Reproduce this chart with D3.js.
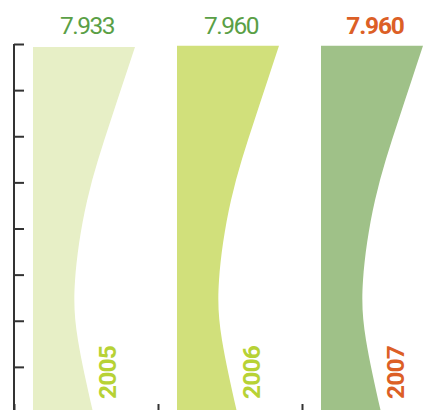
<!DOCTYPE html>
<html><head><meta charset="utf-8">
<script src="https://cdn.jsdelivr.net/npm/d3@7"></script>
<style>body{margin:0;background:#fff}svg{display:block}</style>
</head><body>
<svg id="c" width="445" height="410"></svg>
<script>
const years = ["2005", "2006", "2007"];
const values = [7.933, 7.960, 7.960];
const valueLabels = ["7.933", "7.960", "7.960"];
const yTicks = [0, 1, 2, 3, 4, 5, 6, 7, 8];

const barColors = ["#e7efc6", "#d1e07b", "#9fc188"];
const valueColors = ["#5a9f46", "#5a9f46", "#dc5f26"];
const valueWeights = [400, 400, 700];
const yearColors = ["#b7d235", "#b7d235", "#dc5f26"];

// right-edge profile of each bar: [fraction of height from top, fraction of top width]
const profile = [[0,1],[0.202,0.76],[0.42,0.53],[0.638,0.412],[0.801,0.441],[1,0.59]];

const svg = d3.select("#c");
const mLeft = 14, mRight = 446, mTop = 44, mBottom = 413;

const x = d3.scaleBand().domain(years).range([mLeft, mRight]).paddingInner(0).paddingOuter(0);
const y = d3.scaleLinear().domain([0, 8]).range([mBottom, mTop]);

const inset = 19, topW = 102;

years.forEach((yr, i) => {
  const x0 = x(yr) + inset;
  const yTop = y(values[i]), yBot = y(0);
  const h = yBot - yTop;
  const edge = d3.line().x(d => x0 + d[1] * topW).y(d => yTop + d[0] * h).curve(d3.curveNatural);
  const edgePath = edge(profile);
  const path = `M${x0},${yTop} ` + edgePath.replace(/^M/, "L") + ` L${x0},${yBot} Z`;
  svg.append("path").attr("d", path).attr("fill", barColors[i]);

  svg.append("text")
    .attr("x", x(yr) + inset + topW / 2 + 3)
    .attr("y", 34)
    .attr("text-anchor", "middle")
    .attr("font-family", "Roboto")
    .attr("font-weight", valueWeights[i])
    .attr("font-size", 24.5)
    .attr("letter-spacing", i === 2 ? -1.2 : -1.5)
    .attr("fill", valueColors[i])
    .text(valueLabels[i]);

  const tx = x(yr) + 102, ty = 399;
  svg.append("text")
    .attr("transform", `translate(${tx},${ty}) rotate(-90)`)
    .attr("font-family", "Roboto")
    .attr("font-weight", 700)
    .attr("font-size", 24.5)
    .attr("letter-spacing", -0.8)
    .attr("fill", yearColors[i])
    .text(yr);
});

// left axis
const yAxis = d3.axisRight(y).tickValues(yTicks).tickSize(10).tickFormat("");
const gy = svg.append("g").attr("transform", `translate(${mLeft},0)`).call(yAxis);
gy.select(".domain").attr("d", `M0,${mTop}V${mBottom}`);
gy.selectAll("path,line").attr("stroke", "#333").attr("stroke-width", 2);

// bottom axis (ticks at band boundaries)
const xb = d3.scaleLinear().domain([0, 3]).range([mLeft, mRight]);
const xAxis = d3.axisTop(xb).tickValues([1, 2]).tickSize(9).tickFormat("");
const gx = svg.append("g").attr("transform", `translate(0,${mBottom})`).call(xAxis);
gx.selectAll("path,line").attr("stroke", "#333").attr("stroke-width", 2);
</script>
</body></html>
